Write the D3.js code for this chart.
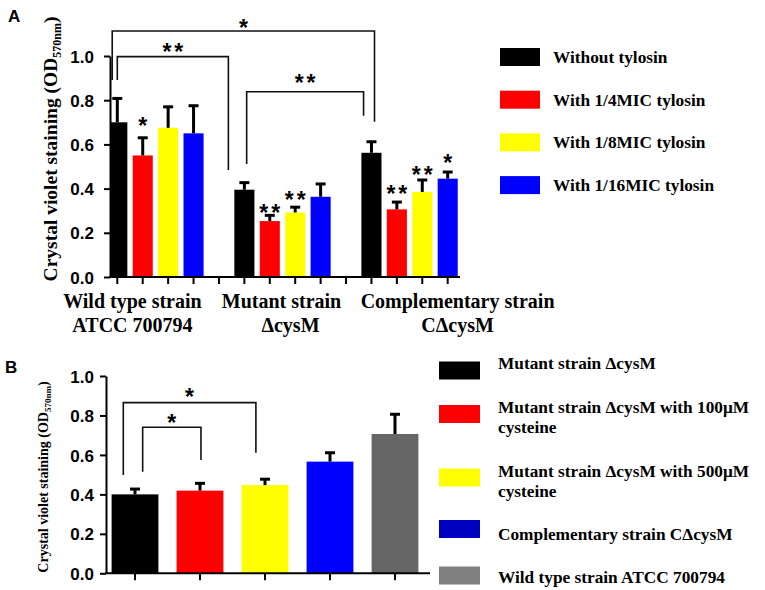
<!DOCTYPE html>
<html>
<head>
<meta charset="utf-8">
<script src="https://cdn.jsdelivr.net/npm/d3@7"></script>
<style>
  body { margin: 0; background: #fff; }
  svg { display: block; }
  .serif { font-family: "Liberation Serif", "Times New Roman", serif; font-weight: bold; }
  .tick text { font-family: "Liberation Sans", Arial, sans-serif; font-weight: bold; font-size: 17px; }
  .star { font-family: "Liberation Sans", Arial, sans-serif; font-weight: bold; font-size: 23px; letter-spacing: 3px; }
</style>
</head>
<body>
<script>
"use strict";

// ---------- Panel A data ----------
var groupLinesA = [["Wild type strain", "ATCC 700794"], ["Mutant strain", "\u0394cysM"], ["Complementary strain", "C\u0394cysM"]];
var seriesA = ["Without tylosin", "With 1/4MIC tylosin", "With 1/8MIC tylosin", "With 1/16MIC tylosin"];
var colorsA = ["#000000", "#ff0000", "#ffff00", "#0000ff"];
var meansA = [[0.70, 0.55, 0.675, 0.65], [0.395, 0.253, 0.292, 0.363], [0.562, 0.306, 0.385, 0.445]];
var errorsA = [[0.108, 0.08, 0.095, 0.125], [0.032, 0.026, 0.024, 0.058], [0.05, 0.033, 0.054, 0.03]];
var marksA = [["", "*", "", ""], ["", "**", "**", ""], ["", "**", "**", "*"]];
var markLevelA = [[0, 0.707, 0, 0], [0, 0.311, 0.371, 0], [0, 0.397, 0.484, 0.537]];
// brackets: [left slot, right slot, top, left foot, right foot, label, label level]
var bracketsA = [
    [-0.2, 10.12, 1.113, 0.891, 0.703, "*", 1.149],
    [0.0, 4.37, 0.997, 0.891, 0.484, "**", 1.041],
    [5.09, 9.69, 0.838, 0.511, 0.730, "**", 0.90]
];
var yTicks = [0, 0.2, 0.4, 0.6, 0.8, 1.0];

// ---------- Panel B data ----------
var namesB = [["Mutant strain \u0394cysM"], ["Mutant strain \u0394cysM with 100\u03bcM", "cysteine"], ["Mutant strain \u0394cysM with 500\u03bcM", "cysteine"], ["Complementary strain C\u0394cysM"], ["Wild type strain ATCC 700794"]];
var colorsB = ["#000000", "#ff0000", "#ffff00", "#0000ff", "#666666"];
var legendColorsB = ["#000000", "#ff0000", "#ffff00", "#0000c0", "#808080"];
var meansB = [0.40, 0.419, 0.447, 0.566, 0.706];
var errorsB = [0.027, 0.037, 0.03, 0.045, 0.10];
var bracketsB = [
    [-0.18, 1.86, 0.865, 0.498, 0.611, "*", 0.92],
    [0.118, 1.015, 0.74, 0.515, 0.574, "*", 0.787]
];

var svg = d3.select("body").append("svg")
            .attr("width", 765)
            .attr("height", 590);

// draws a star label centred at (x, yc)
function starText(g, x, yc, txt)
{
    g.append("text")
        .attr("class", "star")
        .attr("x", x + 1.5)
        .attr("y", yc + 13)
        .attr("text-anchor", "middle")
        .text(txt);
}

function drawBracket(g, pos, y, b)
{
    var x1 = pos(b[0]), x2 = pos(b[1]);
    g.append("path")
        .attr("d", "M" + x1 + "," + y(b[3]) + "V" + y(b[2]) + "H" + x2 + "V" + y(b[4]))
        .attr("fill", "none")
        .attr("stroke", "#111")
        .attr("stroke-width", 1.6);
    starText(g, (x1 + x2) / 2, y(b[6]), b[5]);
}

function drawErr(g, cx, y, m, e)
{
    g.append("line")
        .attr("x1", cx).attr("x2", cx)
        .attr("y1", y(m)).attr("y2", y(m + e))
        .attr("stroke", "#000").attr("stroke-width", 3);
    g.append("line")
        .attr("x1", cx - 5).attr("x2", cx + 5)
        .attr("y1", y(m + e)).attr("y2", y(m + e))
        .attr("stroke", "#000").attr("stroke-width", 3);
}

function styleAxis(g)
{
    g.selectAll("path, line").attr("stroke", "#000").attr("stroke-width", 2);
}

// ================= Panel A =================
var axA = 110;
var slotsA = d3.range(14);
var xA = d3.scaleBand().domain(slotsA).range([104.6, 460.4]);
var posA = d3.scaleLinear().domain([-0.5, 13.5]).range([104.6, 460.4]);
var yA = d3.scaleLinear().domain([0, 1]).range([277, 56]);
var bwA = xA.bandwidth() * 0.79;

var gA = svg.append("g");

var flatA = [];
meansA.forEach(function(row, gi) {
    row.forEach(function(v, si) {
        flatA.push({ slot: gi * 5 + si, v: v, e: errorsA[gi][si], c: colorsA[si], mark: marksA[gi][si], lvl: markLevelA[gi][si] });
    });
});

gA.selectAll(".barA")
    .data(flatA)
    .enter()
    .append("rect")
    .attr("class", "barA")
    .attr("x", function(d) { return Math.max(axA, posA(d.slot) - bwA / 2); })
    .attr("width", function(d) { var l = posA(d.slot) - bwA / 2; return bwA - Math.max(0, axA - l); })
    .attr("y", function(d) { return yA(d.v); })
    .attr("height", function(d) { return yA(0) - yA(d.v); })
    .attr("fill", function(d) { return d.c; });

flatA.forEach(function(d) {
    drawErr(gA, posA(d.slot), yA, d.v, d.e);
    if (d.mark) starText(gA, posA(d.slot), yA(d.lvl), d.mark);
});

bracketsA.forEach(function(b) { drawBracket(gA, posA, yA, b); });

// axes
var yAxisA = gA.append("g")
    .attr("transform", "translate(" + axA + ",0)")
    .call(d3.axisLeft(yA).tickValues(yTicks).tickFormat(d3.format(".1f")).tickSize(6).tickSizeOuter(0).tickPadding(10));
styleAxis(yAxisA);
yAxisA.selectAll("text").attr("dy", "0.36em");

var xAxisA = gA.append("g")
    .attr("transform", "translate(0," + yA(0) + ")")
    .call(d3.axisBottom(xA).tickFormat("").tickSize(7).tickSizeOuter(0));
xAxisA.select(".domain").remove();
xAxisA.append("line").attr("x1", axA - 1).attr("x2", 460).attr("y1", 0).attr("y2", 0);
styleAxis(xAxisA);

// group labels
var labelDx = [-23, -1, 48];
groupLinesA.forEach(function(lines, gi) {
    var cx = (posA(gi * 5) + posA(gi * 5 + 3)) / 2 + labelDx[gi];
    lines.forEach(function(t, li) {
        gA.append("text")
            .attr("class", "serif")
            .attr("x", cx + (li == 1 && gi == 1 ? 9 : 0))
            .attr("y", 308 + li * 24)
            .attr("text-anchor", "middle")
            .attr("font-size", 20)
            .text(t);
    });
});

// y label A
var ylabA = gA.append("text")
    .attr("class", "serif")
    .attr("transform", "translate(57,149) rotate(-90)")
    .attr("text-anchor", "middle")
    .attr("font-size", 19.5);
ylabA.append("tspan").text("Crystal violet staining (OD");
ylabA.append("tspan").attr("font-size", 12).attr("dy", 4).text("570nm");
ylabA.append("tspan").attr("dy", -4).text(")");

gA.append("text")
    .attr("x", 8).attr("y", 22)
    .attr("font-family", "Liberation Sans, Arial, sans-serif")
    .attr("font-weight", "bold")
    .attr("font-size", 17)
    .text("A");

// legend A
var legA = gA.selectAll(".legA")
    .data(seriesA)
    .enter()
    .append("g")
    .attr("class", "legA")
    .attr("transform", function(d, i) { return "translate(500," + (57 + i * 42.7) + ")"; });
legA.append("rect")
    .attr("x", 0).attr("y", -9).attr("width", 40).attr("height", 18)
    .attr("fill", function(d, i) { return colorsA[i]; });
legA.append("text")
    .attr("class", "serif")
    .attr("x", 53).attr("y", 6)
    .attr("font-size", 17.3)
    .text(function(d) { return d; });

// ================= Panel B =================
var axB = 106;
var xB = d3.scaleBand().domain(d3.range(5)).range([102.5, 427.5]);
var posB = d3.scaleLinear().domain([-0.5, 4.5]).range([102.5, 427.5]);
var yB = d3.scaleLinear().domain([0, 1]).range([573.3, 376]);
var bwB = xB.bandwidth() * 0.72;

var gB = svg.append("g");

gB.selectAll(".barB")
    .data(meansB)
    .enter()
    .append("rect")
    .attr("class", "barB")
    .attr("x", function(d, i) { return posB(i) - bwB / 2; })
    .attr("width", bwB)
    .attr("y", function(d) { return yB(d); })
    .attr("height", function(d) { return yB(0) - yB(d); })
    .attr("fill", function(d, i) { return colorsB[i]; });

meansB.forEach(function(m, i) { drawErr(gB, posB(i), yB, m, errorsB[i]); });
bracketsB.forEach(function(b) { drawBracket(gB, posB, yB, b); });

var yAxisB = gB.append("g")
    .attr("transform", "translate(" + axB + ",0)")
    .call(d3.axisLeft(yB).tickValues(yTicks).tickFormat(d3.format(".1f")).tickSize(6).tickSizeOuter(0).tickPadding(6));
styleAxis(yAxisB);
yAxisB.selectAll("text").attr("dy", "0.36em");

var xAxisB = gB.append("g")
    .attr("transform", "translate(0," + yB(0) + ")")
    .call(d3.axisBottom(xB).tickFormat("").tickSize(7).tickSizeOuter(0));
xAxisB.select(".domain").remove();
xAxisB.append("line").attr("x1", axB - 1).attr("x2", 430).attr("y1", 0).attr("y2", 0);
styleAxis(xAxisB);

var ylabB = gB.append("text")
    .attr("class", "serif")
    .attr("transform", "translate(48,477) rotate(-90)")
    .attr("text-anchor", "middle")
    .attr("font-size", 14);
ylabB.append("tspan").text("Crystal violet staining (OD");
ylabB.append("tspan").attr("font-size", 9).attr("dy", 3).text("570nm");
ylabB.append("tspan").attr("dy", -3).text(")");

gB.append("text")
    .attr("x", 5).attr("y", 373)
    .attr("font-family", "Liberation Sans, Arial, sans-serif")
    .attr("font-weight", "bold")
    .attr("font-size", 17)
    .text("B");

// legend B: swatch centres and text baselines
var legRowsB = [370.5, 414, 477.5, 529, 575.5];
var legTextB = [369.3, 412.7, 476.7, 540, 583.3];
var legB = gB.selectAll(".legB")
    .data(namesB)
    .enter()
    .append("g")
    .attr("class", "legB");
legB.append("rect")
    .attr("x", 439).attr("y", function(d, i) { return legRowsB[i] - 9; })
    .attr("width", 41).attr("height", 18)
    .attr("fill", function(d, i) { return legendColorsB[i]; });
legB.each(function(lines, i) {
    var g = d3.select(this);
    lines.forEach(function(t, li) {
        g.append("text")
            .attr("class", "serif")
            .attr("x", 498)
            .attr("y", legTextB[i] + li * 20)
            .attr("font-size", 17.3)
            .text(t);
    });
});
</script>
</body>
</html>
